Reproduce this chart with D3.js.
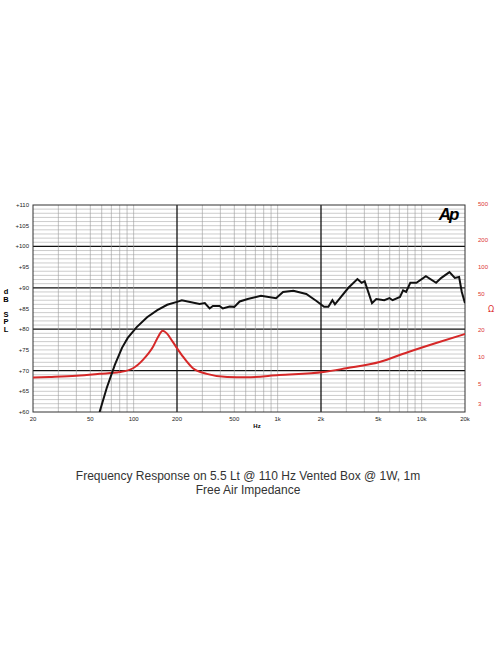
<!DOCTYPE html>
<html><head><meta charset="utf-8">
<script src="https://cdn.jsdelivr.net/npm/d3@7"></script>
<style>body{margin:0;background:#fff}svg{display:block}</style>
</head><body>
<svg id="chart" width="496" height="664"></svg>
<script>
// SPL response (Hz, dB)
const splFreq = [58, 65, 74, 83, 91, 105, 124, 146, 171, 200, 216, 287, 312, 337, 355, 395, 416, 464, 500, 545, 620, 766, 975, 1090, 1285, 1580, 1860, 2100, 2250, 2400, 2500, 3100, 3580, 3830, 4020, 4520, 4840, 5500, 5980, 6290, 7070, 7430, 7800, 8340, 9200, 10700, 12600, 13700, 15600, 17000, 18200, 19000, 20000];
const splDb = [60, 65.8, 71.4, 75.5, 77.9, 80.5, 82.9, 84.6, 85.9, 86.6, 87, 86.1, 86.3, 85, 85.6, 85.6, 85, 85.5, 85.4, 86.7, 87.3, 88.1, 87.5, 89, 89.3, 88.5, 86.8, 85.4, 85.4, 87, 86, 90, 92.1, 91.2, 91.6, 86.3, 87.3, 87, 87.5, 87, 87.8, 89.4, 89, 91.2, 91.2, 92.8, 91.2, 92.4, 93.8, 92.4, 92.6, 89, 86.3];
// Free air impedance (Hz, ohm)
const impFreq = [20, 26, 40, 58, 80, 99, 116, 136, 148, 159, 170, 187, 216, 258, 322, 446, 610, 1020, 2080, 3000, 5100, 8000, 12600, 20000];
const impOhm = [5.9, 6.0, 6.2, 6.5, 6.8, 7.5, 9.3, 12.9, 16.8, 19.6, 18.3, 14.7, 10.5, 7.5, 6.5, 6.0, 5.95, 6.3, 6.8, 7.5, 8.8, 11.3, 14.3, 18];

const dbTicks = [60, 65, 70, 75, 80, 85, 90, 95, 100, 105, 110];
const ohmTicks = [3, 5, 10, 20, 50, 100, 200, 500];
const freqTicks = [20, 50, 100, 200, 500, 1000, 2000, 5000, 10000, 20000];
const freqLabels = ["20", "50", "100", "200", "500", "1k", "2k", "5k", "10k", "20k"];

const svg = d3.select('#chart');
const L = 33, R = 465, T = 205, B = 412;
const x = d3.scaleLog().domain([20, 20000]).range([L, R]);
const y = d3.scaleLinear().domain([60, 110]).range([B, T]);
const yo = d3.scaleLog().domain([10, 100]).range([357, 267]);

const g = svg.append('g');
// minor horizontal grid
g.selectAll('.hm').data(d3.range(61, 110)).join('line')
  .attr('x1', L).attr('x2', R).attr('y1', d => y(d)).attr('y2', d => y(d))
  .attr('stroke', d => d % 10 === 0 ? '#111' : '#aaa')
  .attr('stroke-width', d => d % 10 === 0 ? 1.3 : 0.6);
// vertical grid
const vf = [];
[10, 100, 1000, 10000].forEach(dec => d3.range(1, 10).forEach(k => { const f = dec * k; if (f > 20 && f < 20000) vf.push(f); }));
g.selectAll('.vm').data(vf).join('line')
  .attr('y1', T).attr('y2', B).attr('x1', d => x(d)).attr('x2', d => x(d))
  .attr('stroke', d => (d === 200 || d === 2000) ? '#111' : '#999')
  .attr('stroke-width', d => (d === 200 || d === 2000) ? 1.3 : 0.6);
g.append('rect').attr('x', L).attr('y', T).attr('width', R - L).attr('height', B - T)
  .attr('fill', 'none').attr('stroke', '#333').attr('stroke-width', 1);

// axes labels
svg.selectAll('.dbl').data(dbTicks).join('text')
  .attr('x', 29).attr('y', d => y(d) + 2).attr('text-anchor', 'end')
  .attr('font-family', 'Liberation Sans, Arial').attr('font-size', 6).attr('fill', '#222')
  .text(d => '+' + d);
svg.selectAll('.ohl').data(ohmTicks).join('text')
  .attr('x', 478).attr('y', d => yo(d) + 2)
  .attr('font-family', 'Liberation Sans, Arial').attr('font-size', 6).attr('fill', '#d33')
  .text(d => d);
svg.selectAll('.fl').data(freqTicks).join('text')
  .attr('x', d => x(d)).attr('y', 421).attr('text-anchor', 'middle')
  .attr('font-family', 'Liberation Sans, Arial').attr('font-size', 6).attr('fill', '#222')
  .text((d, i) => freqLabels[i]);
svg.append('text').attr('x', 257).attr('y', 428).attr('text-anchor', 'middle')
  .attr('font-family', 'Liberation Sans, Arial').attr('font-size', 6).attr('font-weight', 'bold').text('Hz');
const spl = ['d', 'B', '', 'S', 'P', 'L'];
svg.selectAll('.spl').data(spl).join('text')
  .attr('x', 6).attr('y', (d, i) => 294 + i * 7.5).attr('text-anchor', 'middle')
  .attr('font-family', 'Liberation Sans, Arial').attr('font-size', 7.5).attr('font-weight', 'bold')
  .text(d => d);
svg.append('text').attr('x', 491).attr('y', 312).attr('text-anchor', 'middle')
  .attr('font-family', 'DejaVu Sans').attr('font-size', 8).attr('fill', '#d33').text('Ω');
svg.append('text').attr('x', 448).attr('y', 220).attr('text-anchor', 'middle')
  .attr('font-family', 'Liberation Sans, Arial').attr('font-size', 17).attr('font-weight', 'bold')
  .attr('font-style', 'italic').attr('letter-spacing', -2).text('Ap');

// curves
svg.append('clipPath').attr('id', 'c').append('rect')
  .attr('x', L).attr('y', T).attr('width', R - L).attr('height', B - T);
svg.append('path').attr('clip-path', 'url(#c)')
  .attr('d', d3.line().curve(d3.curveMonotoneX)(impFreq.map((f, i) => [x(f), yo(impOhm[i])])))
  .attr('fill', 'none').attr('stroke', '#d62828').attr('stroke-width', 2);
svg.append('path').attr('clip-path', 'url(#c)')
  .attr('d', d3.line()(splFreq.map((f, i) => [x(f), y(splDb[i])])))
  .attr('fill', 'none').attr('stroke', '#111').attr('stroke-width', 2);

// title
svg.append('text').attr('x', 248).attr('y', 480).attr('text-anchor', 'middle')
  .attr('font-family', 'Liberation Sans, Arial').attr('font-size', 12).attr('fill', '#333')
  .text('Frequency Response on 5.5 Lt @ 110 Hz Vented Box @ 1W, 1m');
svg.append('text').attr('x', 248).attr('y', 494).attr('text-anchor', 'middle')
  .attr('font-family', 'Liberation Sans, Arial').attr('font-size', 12).attr('fill', '#333')
  .text('Free Air Impedance');
</script>
</body></html>
